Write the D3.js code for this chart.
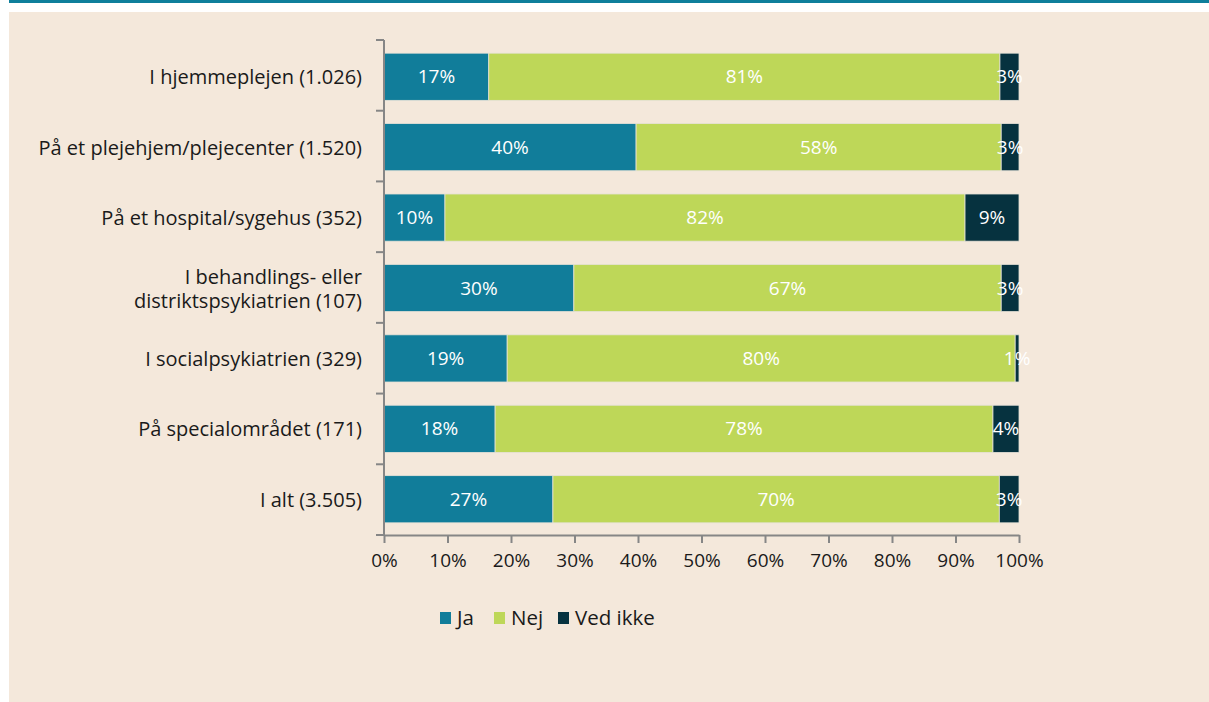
<!DOCTYPE html>
<html>
<head>
<meta charset="utf-8">
<script src="https://cdn.jsdelivr.net/npm/d3@7"></script>
<style>
  body { margin: 0; background: #fff; }
  svg text { font-family: "Open Sans", "Noto Sans", sans-serif; }
</style>
</head>
<body>
<svg width="1209" height="702"></svg>
<script>
const svg = d3.select("svg");
const width = +svg.attr("width");
const height = +svg.attr("height");

// data (percent)
const categories = [
  "I hjemmeplejen (1.026)",
  "På et plejehjem/plejecenter (1.520)",
  "På et hospital/sygehus (352)",
  "I behandlings- eller\ndistriktspsykiatrien (107)",
  "I socialpsykiatrien (329)",
  "På specialområdet (171)",
  "I alt (3.505)"
];
const ja = [16.5, 39.7, 9.6, 29.9, 19.4, 17.5, 26.6];
const nej = [80.5, 57.5, 81.9, 67.3, 80.0, 78.4, 70.3];
const vedIkke = [3.0, 2.8, 8.5, 2.8, 0.6, 4.1, 3.1];
const seriesNames = ["Ja", "Nej", "Ved ikke"];
const colors = ["#117d9a", "#bed758", "#06323f"];
const xTicks = [0, 10, 20, 30, 40, 50, 60, 70, 80, 90, 100];

// background panel + top stripe
svg.append("rect").attr("x", 9).attr("y", 0).attr("width", width - 9).attr("height", 3).attr("fill", "#0e7f9b");
svg.append("rect").attr("x", 9).attr("y", 12).attr("width", width - 9).attr("height", height - 12).attr("fill", "#f4e8db");

const margin = { left: 384, right: 190, top: 40, bottom: 167 };
const x = d3.scaleLinear().domain([0, 100]).range([margin.left, width - margin.right]);
const y = d3.scaleBand().domain(categories).range([margin.top, height - margin.bottom]).paddingInner(0.33).paddingOuter(0.18);

const rows = categories.map((c, i) => ({ cat: c, Ja: ja[i], Nej: nej[i], "Ved ikke": vedIkke[i] }));
const stacked = d3.stack().keys(seriesNames)(rows);

const layer = svg.append("g").selectAll("g")
  .data(stacked)
  .join("g")
  .attr("fill", (d, i) => colors[i]);

layer.selectAll("rect")
  .data(d => d)
  .join("rect")
  .attr("x", d => x(d[0]))
  .attr("y", d => y(d.data.cat) + 0.5)
  .attr("width", d => x(d[1]) - x(d[0]))
  .attr("height", y.bandwidth())
  .attr("stroke", "#e6e2d8")
  .attr("stroke-width", 0.8);

layer.selectAll("text")
  .data(d => d)
  .join("text")
  .attr("x", d => (x(d[0]) + x(d[1])) / 2)
  .attr("y", d => y(d.data.cat) + y.bandwidth() / 2 + 0.5)
  .attr("dy", "0.35em")
  .attr("text-anchor", "middle")
  .attr("fill", "#fff")
  .attr("font-size", 19)
  .text(d => Math.round(d[1] - d[0]) + "%");

// y axis
const yAxisG = svg.append("g");
yAxisG.append("line")
  .attr("x1", margin.left).attr("x2", margin.left)
  .attr("y1", margin.top).attr("y2", height - margin.bottom)
  .attr("stroke", "#868686").attr("stroke-width", 2);
yAxisG.selectAll("line.tick")
  .data(d3.range(categories.length + 1))
  .join("line")
  .attr("class", "tick")
  .attr("x1", margin.left - 8).attr("x2", margin.left)
  .attr("y1", i => margin.top + i * (height - margin.bottom - margin.top) / categories.length)
  .attr("y2", i => margin.top + i * (height - margin.bottom - margin.top) / categories.length)
  .attr("stroke", "#868686").attr("stroke-width", 2);

const catLabels = yAxisG.selectAll("text")
  .data(categories)
  .join("text")
  .attr("x", margin.left - 22)
  .attr("y", d => y(d) + y.bandwidth() / 2 + 1)
  .attr("text-anchor", "end")
  .attr("font-size", 20)
  .attr("fill", "#1a1a1a");
catLabels.each(function(d) {
  const lines = d.split("\n");
  const t = d3.select(this);
  lines.forEach((l, j) => {
    t.append("tspan")
      .attr("x", margin.left - 22)
      .attr("dy", j === 0 ? (0.35 - (lines.length - 1) * 0.6) + "em" : "1.2em")
      .text(l);
  });
});

// x axis
const xAxis = d3.axisBottom(x).tickValues(xTicks).tickFormat(d => d + "%").tickSize(8).tickSizeOuter(0);
const xg = svg.append("g")
  .attr("transform", `translate(0,${height - margin.bottom})`)
  .call(xAxis);
xg.select(".domain").attr("stroke", "#868686").attr("stroke-width", 2);
xg.selectAll(".tick line").attr("stroke", "#868686").attr("stroke-width", 2);
xg.selectAll(".tick text")
  .attr("font-size", 19)
  .attr("font-family", "\"Open Sans\", \"Noto Sans\", sans-serif")
  .attr("fill", "#1a1a1a")
  .attr("dy", "1.1em");

// legend
const legendX = [440, 494, 558];
const legend = svg.append("g").selectAll("g")
  .data(seriesNames)
  .join("g")
  .attr("transform", (d, i) => `translate(${legendX[i]},612)`);
legend.append("rect").attr("width", 11).attr("height", 12).attr("fill", (d, i) => colors[i]);
legend.append("text")
  .attr("x", 17).attr("y", 6).attr("dy", "0.35em")
  .attr("font-size", 20.5)
  .attr("fill", "#1a1a1a")
  .text(d => d);
</script>
</body>
</html>
